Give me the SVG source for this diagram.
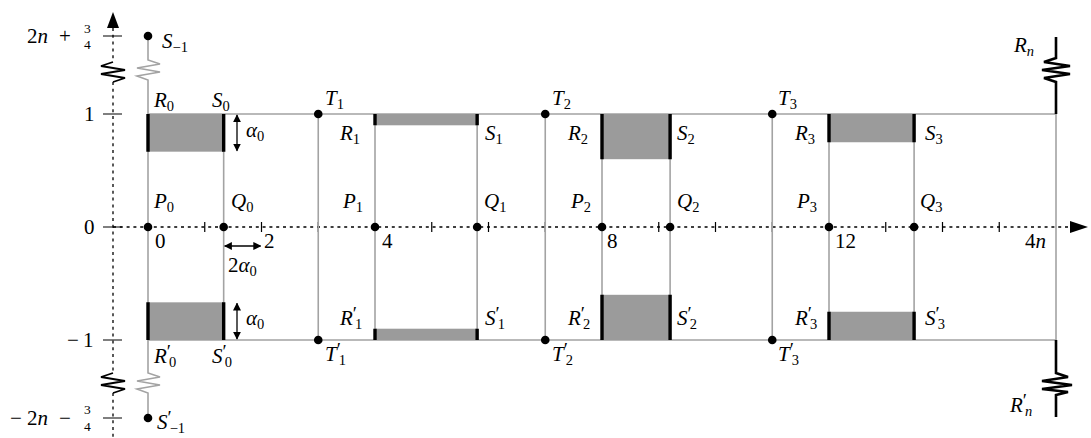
<svg xmlns="http://www.w3.org/2000/svg" width="1091" height="438" viewBox="0 0 1091 438">
<defs>
<style>
.g{stroke:#a3a3a3;stroke-width:1.6;fill:none}
.k{stroke:#000;stroke-width:3.4;fill:none}
.kz{stroke:#000;stroke-width:2.6;fill:none;stroke-linejoin:miter}
.sh{fill:#9b9b9b;stroke:none}
.dt{stroke:#000;stroke-width:1.3;stroke-dasharray:3 3.8;fill:none}
.tk{stroke:#000;stroke-width:1.2;fill:none}
.ar{stroke:#000;stroke-width:1.3;fill:none}
.zz{stroke:#000;stroke-width:1.8;fill:none}
text{font-family:"Liberation Serif","Times New Roman",serif;font-size:21px;fill:#000}
.i{font-style:italic}
.s{font-size:14.5px;font-style:normal}
.sn{font-size:14.5px;font-style:italic}
.p{font-size:19px;font-style:normal}
.f{font-size:13.5px}
</style>
<marker id="ah" viewBox="0 0 10 10" refX="9" refY="5" markerWidth="8" markerHeight="8" markerUnits="userSpaceOnUse" orient="auto-start-reverse"><path d="M0,0 L10,5 L0,10 Z" fill="#000"/></marker>
</defs>
<rect width="1091" height="438" fill="#fff"/>

<g id="axes">
<path class="dt" d="M113,28 V62 M113,82 V373 M113,393 V438"/>
<path class="zz" d="M113,62 L101,66 L125,70 L101,74 L125,78 L113,82"/>
<path class="zz" d="M113,373 L101,377 L125,381 L101,385 L125,389 L113,393"/>
<path d="M113,12 L119,28 L107,28 Z" fill="#000"/>
<path class="dt" d="M113,227 H1070"/>
<path d="M1088,227 L1070,221 L1070,233 Z" fill="#000"/>
<path class="tk" d="M103,36 H122 M103,114 H122 M103,227 H122 M103,340 H122 M103,418 H122"/>
<path class="tk" d="M204.75,222 V232 M261.5,222 V232 M318.25,222 V232 M431.75,222 V232 M488.5,222 V232 M545.25,222 V232 M658.75,222 V232 M715.5,222 V232 M772.25,222 V232 M885.75,222 V232 M942.5,222 V232 M999.25,222 V232"/>
<text x="27" y="43">2<tspan class="i">n</tspan></text>
<text x="59" y="43">+</text>
<text class="f" x="84" y="33">3</text>
<text class="f" x="84" y="49">4</text>
<text x="84" y="121">1</text>
<text x="84" y="234">0</text>
<text x="67" y="347">−</text>
<text x="83" y="347">1</text>
<text x="10" y="425">−</text>
<text x="27" y="425">2<tspan class="i">n</tspan></text>
<text x="59" y="425">−</text>
<text class="f" x="84" y="414">3</text>
<text class="f" x="84" y="431">4</text>
<text x="155" y="248">0</text>
<text x="264" y="248">2</text>
<text x="382" y="248">4</text>
<text x="607" y="248">8</text>
<text x="835" y="248">12</text>
<text x="1025" y="248">4<tspan class="i">n</tspan></text>
</g>

<g id="connectors">
<path class="g" d="M148,114 H1056 M148,340 H1056"/>
<path class="g" d="M148,36 V60 L160,64 L137,68 L160,72 L137,76 L148,80 V373 L160,377 L137,381 L160,385 L137,389 L148,393 V418"/>
<path class="g" d="M223.67,114 V340 M318.25,114 V340 M375,114 V340 M477.15,114 V340 M545.25,114 V340 M602,114 V340 M670.1,114 V340 M772.25,114 V340 M829,114 V340 M914.1,114 V340 M1056,114 V340"/>
<path class="ar" d="M237,115 V150.7" marker-start="url(#ah)" marker-end="url(#ah)"/>
<path class="ar" d="M237,303.3 V339" marker-start="url(#ah)" marker-end="url(#ah)"/>
<path class="ar" d="M224.7,246 H260.5" marker-start="url(#ah)" marker-end="url(#ah)"/>
<text class="i" x="246" y="137">α<tspan class="s" dy="4">0</tspan></text>
<text class="i" x="246" y="325">α<tspan class="s" dy="4">0</tspan></text>
<text x="228" y="272">2<tspan class="i">α</tspan><tspan class="s" dy="4">0</tspan></text>
</g>

<g id="regions">
<rect class="sh" x="148" y="114" width="75.67" height="37.67"/>
<rect class="sh" x="148" y="302.33" width="75.67" height="37.67"/>
<rect class="sh" x="375" y="114" width="102.15" height="11.3"/>
<rect class="sh" x="375" y="328.7" width="102.15" height="11.3"/>
<rect class="sh" x="602" y="114" width="68.1" height="45.2"/>
<rect class="sh" x="602" y="294.8" width="68.1" height="45.2"/>
<rect class="sh" x="829" y="114" width="85.1" height="28.25"/>
<rect class="sh" x="829" y="311.75" width="85.1" height="28.25"/>
<path class="k" d="M148,114 V151.67 M223.67,114 V151.67 M148,302.33 V340 M223.67,302.33 V340"/>
<path class="k" d="M375,114 V125.3 M477.15,114 V125.3 M375,328.7 V340 M477.15,328.7 V340"/>
<path class="k" d="M602,114 V159.2 M670.1,114 V159.2 M602,294.8 V340 M670.1,294.8 V340"/>
<path class="k" d="M829,114 V142.25 M914.1,114 V142.25 M829,311.75 V340 M914.1,311.75 V340"/>
</g>

<g id="node-Sm1"><circle cx="148" cy="36" r="4.3"/><text class="i" x="162" y="48">S<tspan class="s" dy="4">−1</tspan></text></g>
<g id="node-Sm1p"><circle cx="148" cy="418" r="4.3"/><text class="i" x="157" y="429">S<tspan class="p" dy="-5">′</tspan><tspan class="s" dx="-2" dy="9">−1</tspan></text></g>
<g id="node-R0"><text class="i" x="154" y="107">R<tspan class="s" dy="4">0</tspan></text></g>
<g id="node-S0"><text class="i" x="212" y="107">S<tspan class="s" dy="4">0</tspan></text></g>
<g id="node-R0p"><text class="i" x="154" y="363">R<tspan class="p" dy="-5">′</tspan><tspan class="s" dx="-2" dy="9">0</tspan></text></g>
<g id="node-S0p"><text class="i" x="212" y="363">S<tspan class="p" dy="-5">′</tspan><tspan class="s" dx="-2" dy="9">0</tspan></text></g>
<g id="node-P0"><circle cx="148" cy="227" r="4.3"/><text class="i" x="154" y="208">P<tspan class="s" dy="4">0</tspan></text></g>
<g id="node-Q0"><circle cx="223.67" cy="227" r="4.3"/><text class="i" x="231" y="208">Q<tspan class="s" dy="4">0</tspan></text></g>

<g id="node-T1"><circle cx="318.25" cy="114" r="4.3"/><text class="i" x="325" y="105">T<tspan class="s" dy="4">1</tspan></text></g>
<g id="node-T1p"><circle cx="318.25" cy="340" r="4.3"/><text class="i" x="325" y="361">T<tspan class="p" dy="-5">′</tspan><tspan class="s" dx="-2" dy="9">1</tspan></text></g>
<g id="node-R1"><text class="i" x="340" y="140">R<tspan class="s" dy="4">1</tspan></text></g>
<g id="node-S1"><text class="i" x="485" y="140">S<tspan class="s" dy="4">1</tspan></text></g>
<g id="node-R1p"><text class="i" x="340" y="325">R<tspan class="p" dy="-5">′</tspan><tspan class="s" dx="-2" dy="9">1</tspan></text></g>
<g id="node-S1p"><text class="i" x="485" y="325">S<tspan class="p" dy="-5">′</tspan><tspan class="s" dx="-2" dy="9">1</tspan></text></g>
<g id="node-P1"><circle cx="375" cy="227" r="4.3"/><text class="i" x="343" y="208">P<tspan class="s" dy="4">1</tspan></text></g>
<g id="node-Q1"><circle cx="477.15" cy="227" r="4.3"/><text class="i" x="484" y="208">Q<tspan class="s" dy="4">1</tspan></text></g>

<g id="node-T2"><circle cx="545.25" cy="114" r="4.3"/><text class="i" x="552" y="105">T<tspan class="s" dy="4">2</tspan></text></g>
<g id="node-T2p"><circle cx="545.25" cy="340" r="4.3"/><text class="i" x="552" y="361">T<tspan class="p" dy="-5">′</tspan><tspan class="s" dx="-2" dy="9">2</tspan></text></g>
<g id="node-R2"><text class="i" x="568" y="140">R<tspan class="s" dy="4">2</tspan></text></g>
<g id="node-S2"><text class="i" x="677" y="140">S<tspan class="s" dy="4">2</tspan></text></g>
<g id="node-R2p"><text class="i" x="568" y="325">R<tspan class="p" dy="-5">′</tspan><tspan class="s" dx="-2" dy="9">2</tspan></text></g>
<g id="node-S2p"><text class="i" x="677" y="325">S<tspan class="p" dy="-5">′</tspan><tspan class="s" dx="-2" dy="9">2</tspan></text></g>
<g id="node-P2"><circle cx="602" cy="227" r="4.3"/><text class="i" x="571" y="208">P<tspan class="s" dy="4">2</tspan></text></g>
<g id="node-Q2"><circle cx="670.1" cy="227" r="4.3"/><text class="i" x="677" y="208">Q<tspan class="s" dy="4">2</tspan></text></g>

<g id="node-T3"><circle cx="772.25" cy="114" r="4.3"/><text class="i" x="778" y="105">T<tspan class="s" dy="4">3</tspan></text></g>
<g id="node-T3p"><circle cx="772.25" cy="340" r="4.3"/><text class="i" x="778" y="361">T<tspan class="p" dy="-5">′</tspan><tspan class="s" dx="-2" dy="9">3</tspan></text></g>
<g id="node-R3"><text class="i" x="795" y="140">R<tspan class="s" dy="4">3</tspan></text></g>
<g id="node-S3"><text class="i" x="925" y="140">S<tspan class="s" dy="4">3</tspan></text></g>
<g id="node-R3p"><text class="i" x="795" y="325">R<tspan class="p" dy="-5">′</tspan><tspan class="s" dx="-2" dy="9">3</tspan></text></g>
<g id="node-S3p"><text class="i" x="925" y="325">S<tspan class="p" dy="-5">′</tspan><tspan class="s" dx="-2" dy="9">3</tspan></text></g>
<g id="node-P3"><circle cx="829" cy="227" r="4.3"/><text class="i" x="797" y="208">P<tspan class="s" dy="4">3</tspan></text></g>
<g id="node-Q3"><circle cx="914.1" cy="227" r="4.3"/><text class="i" x="920" y="208">Q<tspan class="s" dy="4">3</tspan></text></g>

<g id="node-Rn"><path class="kz" d="M1056,114 V82 L1044,78 L1070,74 L1042,70 L1070,66 L1044,62 L1056,58 V37"/><text class="i" x="1014" y="52">R<tspan class="sn" dy="4">n</tspan></text></g>
<g id="node-Rnp"><path class="kz" d="M1056,340 V373 L1068,377 L1042,381 L1072,385 L1042,389 L1068,392 L1056,395 V417"/><text class="i" x="1010" y="412">R<tspan class="p" dy="-5">′</tspan><tspan class="sn" dx="-2" dy="9">n</tspan></text></g>
</svg>
